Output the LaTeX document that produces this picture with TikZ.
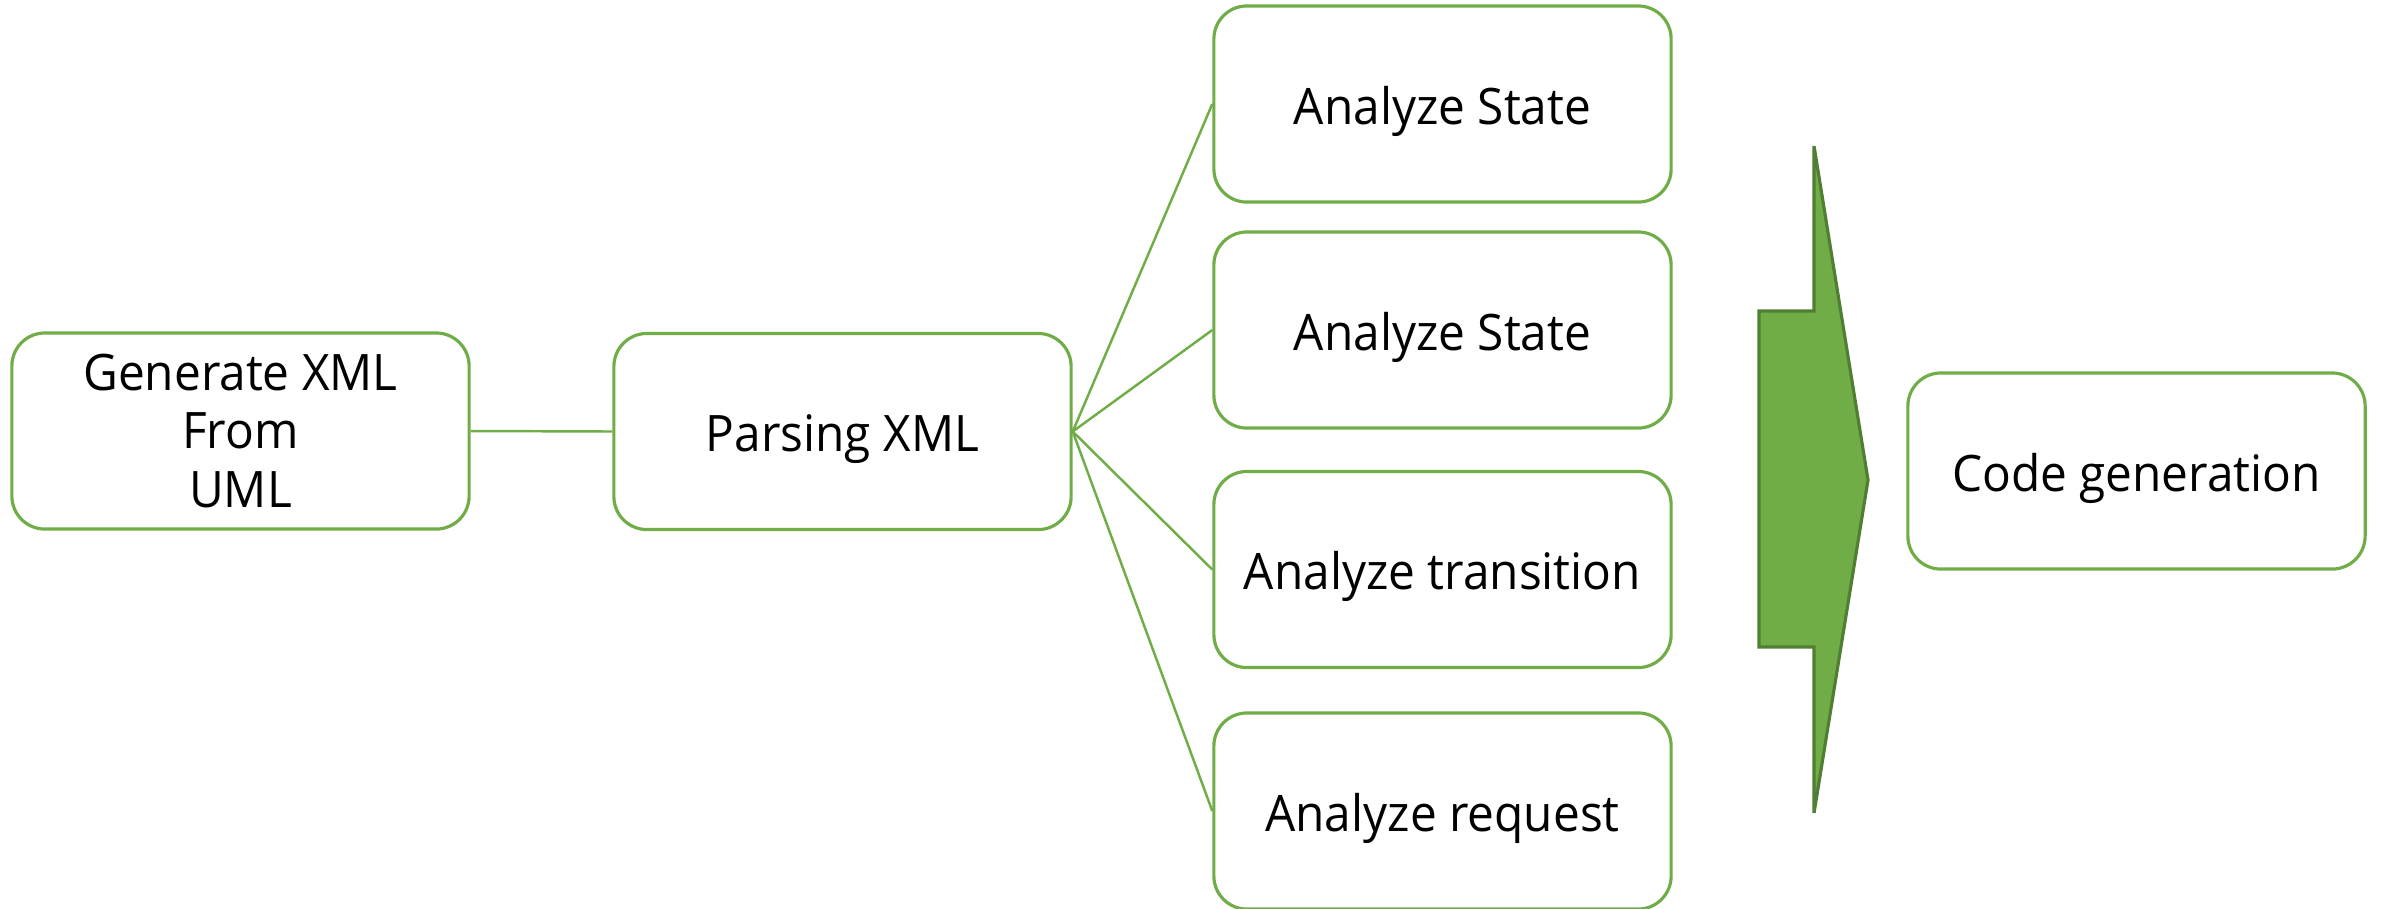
\documentclass[tikz,border=0pt]{standalone}
\usepackage{fontspec}
\setmainfont[FakeStretch=0.95]{Open Sans}
\definecolor{boxgreen}{HTML}{70AD47}
\definecolor{darkgreen}{HTML}{507E32}
\begin{document}
\begin{tikzpicture}[x=0.01cm,y=-0.01cm,
  box/.style={draw=boxgreen, line width=0.9pt, rounded corners=0.33cm, fill=white,
    minimum width=4.57cm, minimum height=1.96cm, align=center, inner sep=0pt,
    font=\fontsize{14.3}{16.6}\selectfont},
  oneline/.style={box, text height=14.9pt, text depth=3.4pt},
  link/.style={draw=boxgreen, line width=0.7pt}]
\useasboundingbox (0,0) rectangle (2382,908);
\node[box] (gen) at (240.5,431) {Generate XML\\From\\UML};
\node[oneline] (parse) at (842.5,431.5) {Parsing XML};
\node[oneline] (s1) at (1442.5,104) {Analyze State};
\node[oneline] (s2) at (1442.5,330) {Analyze State};
\node[oneline] (tr) at (1442.5,569.5) {Analyze transition};
\node[oneline] (rq) at (1442.5,811) {Analyze request};
\node[oneline] (code) at (2136.5,471) {Code generation};
\draw[link] (gen.east) -- (parse.west);
\draw[link] (parse.east) -- (s1.west);
\draw[link] (parse.east) -- (s2.west);
\draw[link] (parse.east) -- (tr.west);
\draw[link] (parse.east) -- (rq.west);
\draw[fill=boxgreen, draw=darkgreen, line width=0.9pt]
  (1759,311) -- (1814,311) -- (1814,146) -- (1868,480) -- (1814,813) -- (1814,647) -- (1759,647) -- cycle;
\end{tikzpicture}
\end{document}
